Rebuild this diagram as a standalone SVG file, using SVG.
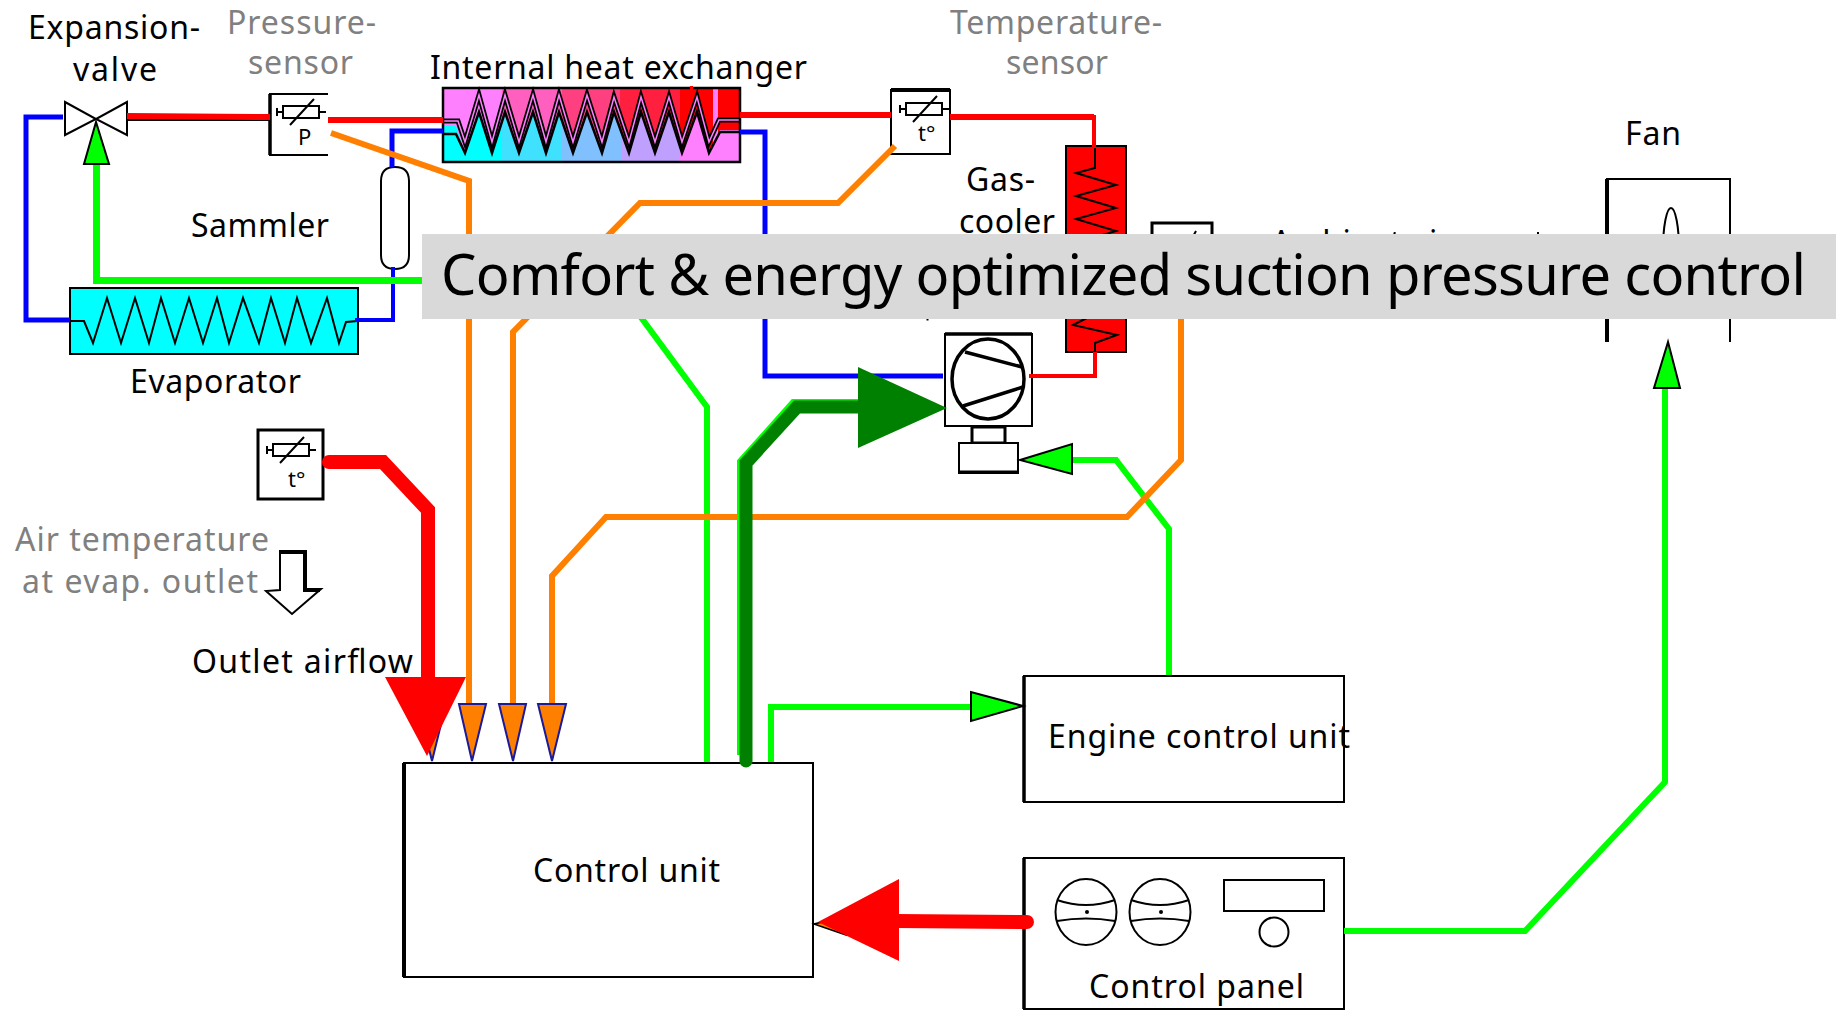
<svg xmlns="http://www.w3.org/2000/svg" width="1836" height="1010" viewBox="0 0 1836 1010">
<style>
text{font-family:"Noto Sans","Open Sans","Liberation Sans",sans-serif;font-size:32px;fill:#000}
text.g{fill:#808080}
text.s{font-size:22px}
.box{fill:#fff;stroke:#000;stroke-width:2}
.bx3{fill:#fff;stroke:#000;stroke-width:3}
.ln{fill:none;stroke:#000;stroke-width:2}
.c{fill:none;stroke-linejoin:miter}
.red{stroke:#f00}.blue{stroke:#00f}.lime{stroke:#0f0}.or{stroke:#ff8000}
.ah{fill:#0f0;stroke:#000;stroke-width:2}
.oh{fill:#ff8000;stroke:#1a1a9a;stroke-width:2}
</style>
<defs>
<clipPath id="lowerCoil"><path d="M443,126H456L465,153L479,112L492,153L505,112L519,153L533,112L546,153L559,112L573,153L587,112L602,153L614,112L629,153L641,112L655,153L669,112L682,153L697,112L709,153L720,130H740V162H443Z"/></clipPath>
<g id="res"><rect x="0" y="0" width="36" height="12" fill="#fff" stroke="#000" stroke-width="2"/><path d="M-7,6H0M36,6H43M-6,2V10M7,19L31,-7" fill="none" stroke="#000" stroke-width="2"/></g>
</defs>

<g id="expansion-valve">
<path class="box" d="M65,102L96,119L65,135Z"/>
<path class="box" d="M127,102L96,119L127,135Z"/>
<text x="28" y="39" textLength="172">Expansion-</text>
<text x="73" y="81" textLength="84">valve</text>
</g>

<g id="pressure-sensor">
<path class="ln" d="M328,94H270V155H328"/>
<path d="M270,94V155" stroke="#000" stroke-width="3.500"/>
<use href="#res" x="283" y="106"/>
<text class="s" x="298" y="145">P</text>
<text class="g" x="227" y="34" textLength="149">Pressure-</text>
<text class="g" x="248" y="74" textLength="105">sensor</text>
</g>

<g id="internal-heat-exchanger">
<rect x="443" y="88" width="60" height="74" fill="#ff80ff"/>
<rect x="502" y="88" width="60" height="74" fill="#ff60c0"/>
<rect x="562" y="88" width="58" height="74" fill="#ff4080"/>
<rect x="620" y="88" width="60" height="74" fill="#ff2040"/>
<rect x="680" y="88" width="33" height="74" fill="#f00"/>
<rect x="713" y="88" width="5" height="74" fill="#ff80ff"/>
<rect x="718" y="88" width="22" height="74" fill="#f00"/>
<g clip-path="url(#lowerCoil)">
<rect x="443" y="88" width="59" height="74" fill="#0ff"/>
<rect x="502" y="88" width="60" height="74" fill="#40e0ff"/>
<rect x="562" y="88" width="60" height="74" fill="#80c0ff"/>
<rect x="622" y="88" width="58" height="74" fill="#c0a0ff"/>
<rect x="680" y="88" width="60" height="74" fill="#ff80ff"/>
</g>
<polyline fill="none" stroke="#000" stroke-width="2.500" points="443,134 456,134 465,153 479,112 492,153 505,112 519,153 533,112 546,153 559,112 573,153 587,112 602,153 614,112 629,153 641,112 655,153 669,112 682,153 697,112 709,153 720,132 740,132"/>
<polyline fill="none" stroke="#000" stroke-width="5" points="443,121 458,121 465,142 479,95 492,142 505,95 519,142 533,95 546,142 559,95 573,142 587,95 602,142 614,97 629,142 641,97 655,142 669,97 682,142 697,97 709,142 719,120 740,120"/>
<polyline fill="none" stroke="#ff80ff" stroke-width="1.500" points="443,121 458,121 465,142 479,95 492,142 505,95 519,142 533,95 546,142 559,95 573,142 587,95 602,142 614,97 629,142 641,97 655,142 669,97 682,142 697,97 709,142 719,120 740,120"/>
<rect x="443" y="88" width="297" height="74" fill="none" stroke="#000" stroke-width="2.500"/>
<rect x="690" y="86" width="3" height="4" fill="#f00"/>
<text x="430" y="79" textLength="377">Internal heat exchanger</text>
</g>

<g id="temperature-sensor">
<rect class="box" x="891" y="90" width="59" height="64"/>
<path d="M891,90H950" stroke="#000" stroke-width="4"/>
<use href="#res" x="906" y="103"/>
<text class="s" x="918" y="141">t°</text>
<text class="g" x="950" y="34" textLength="212">Temperature-</text>
<text class="g" x="1006" y="74" textLength="102">sensor</text>
</g>

<g id="sammler">
<path class="box" d="M381,181Q381,167 395,167Q409,167 409,181V255Q409,269 395,269Q381,269 381,255Z"/>
<text x="191" y="237" textLength="138">Sammler</text>
</g>

<g id="evaporator">
<rect x="70" y="288" width="288" height="66" fill="#0ff" stroke="#000" stroke-width="2"/>
<polyline fill="none" stroke="#000" stroke-width="2" points="70,321 84,321 93,343 107,298 121,343 135,298 149,343 161,298 175,343 189,298 203,343 217,298 229,343 243,298 259,343 271,298 285,343 297,298 311,343 327,298 339,343 346,322 358,321"/>
<text x="130" y="393" textLength="171">Evaporator</text>
</g>

<g id="gas-cooler">
<rect x="1066" y="146" width="60" height="206" fill="#f00" stroke="#000" stroke-width="2"/>
<polyline fill="none" stroke="#000" stroke-width="2" points="1095,146 1095,168 1076,173 1116,185 1076,196 1116,208 1076,219 1116,231 1076,243 1116,255 1076,267 1116,279 1076,291 1117,303 1073,325 1117,335 1095,343 1095,352"/>
<text x="966" y="191" textLength="69">Gas-</text>
<text x="959" y="233" textLength="96">cooler</text>
</g>

<g id="ambient-sensor">
<rect class="bx3" x="1152" y="223" width="60" height="90"/>
<path d="M1191,240L1196,231" stroke="#000" stroke-width="2"/>
<text x="1271" y="254" textLength="180">Ambient air</text>
<rect x="1537" y="232" width="2" height="2" fill="#000"/>
</g>

<g id="compressor">
<rect class="box" x="945" y="334" width="87" height="92"/>
<path d="M945,334H1032" stroke="#000" stroke-width="3.500"/>
<ellipse cx="988" cy="379" rx="36" ry="40" fill="#fff" stroke="#000" stroke-width="3.500"/>
<path d="M965,352L1022,367M963,406L1023,387" stroke="#000" stroke-width="3.500"/>
<rect class="bx3" x="972" y="427" width="33" height="16"/>
<rect class="box" x="959" y="443" width="59" height="30"/>
<path d="M959,472H1018" stroke="#000" stroke-width="3"/>
<rect x="926.500" y="319" width="2" height="1.500" fill="#000"/>
</g>

<g id="air-temp-sensor">
<rect class="bx3" x="258" y="430" width="65" height="69"/>
<use href="#res" x="273" y="444"/>
<text class="s" x="288" y="487">t°</text>
<text class="g" x="15" y="551" textLength="254">Air temperature</text>
<text class="g" x="22" y="593" textLength="236">at evap. outlet</text>
</g>

<g id="outlet-airflow">
<path class="ln" style="fill:#fff" d="M280,590V551H306V589H321L292,614L266,591Z"/>
<path d="M279,552H305V590H320" fill="none" stroke="#000" stroke-width="4"/>
<text x="192" y="673" textLength="221">Outlet airflow</text>
</g>

<g id="control-unit">
<rect class="box" x="404" y="763" width="409" height="214"/>
<path d="M404,763V977" stroke="#000" stroke-width="4"/>
<text x="533" y="882" textLength="187">Control unit</text>
</g>

<g id="engine-control-unit">
<rect class="box" x="1024" y="676" width="320" height="126"/>
<path d="M1024,676V802" stroke="#000" stroke-width="3.500"/>
<text x="1048" y="748" textLength="302">Engine control unit</text>
</g>

<g id="control-panel">
<rect class="box" x="1024" y="858" width="320" height="151"/>
<path d="M1024,858V1009" stroke="#000" stroke-width="3.500"/>
<ellipse class="box" cx="1086" cy="912" rx="30.500" ry="33"/>
<path class="ln" d="M1057,900Q1086,910 1115,900M1057,921Q1086,916 1115,921"/>
<circle cx="1087" cy="912" r="2"/>
<ellipse class="box" cx="1160" cy="912" rx="30.500" ry="33"/>
<path class="ln" d="M1131,900Q1160,910 1189,900M1131,921Q1160,916 1189,921"/>
<circle cx="1161" cy="912" r="2"/>
<rect class="box" x="1224" y="880" width="100" height="31"/>
<ellipse class="box" cx="1274" cy="932" rx="14.500" ry="14.500"/>
<text x="1089" y="998" textLength="215">Control panel</text>
</g>

<g id="fan">
<path class="ln" d="M1607,342V179H1730V342"/>
<path d="M1607,179V342" stroke="#000" stroke-width="4"/>
<ellipse class="box" cx="1671" cy="250" rx="8" ry="42"/>
<text x="1625" y="145" textLength="56">Fan</text>
</g>

<g id="connectors">
<path class="c" d="M127,120H270" stroke="#000" stroke-width="2"/>
<path class="c red" stroke-width="6" d="M127,116L270,117"/>
<path class="c red" stroke-width="6" d="M328,120H443"/>
<path class="c red" stroke-width="6" d="M740,115H891"/>
<path class="c red" stroke-width="6" d="M950,117H1094"/>
<path class="c red" stroke-width="4" d="M1094,115V148"/>
<path class="c red" stroke-width="4" d="M1095,352V376H1029"/>
<path class="c blue" stroke-width="5" d="M63,117H26V320H70"/>
<path class="c blue" stroke-width="5" d="M392,167V131H443"/>
<path class="c blue" stroke-width="4" d="M393,267V320H355"/>
<path class="c blue" stroke-width="5" d="M740,132H765V376H943"/>
<path class="c lime" stroke-width="7" d="M96.500,164V280.500H422"/>
<path class="c lime" stroke-width="6" d="M640,316L707,407V762"/>
<path class="c lime" stroke-width="6" d="M771,762V707H972"/>
<path class="c lime" stroke-width="6" d="M1072,460H1116L1169,529V675"/>
<path class="c lime" stroke-width="6" d="M1344,931H1525L1665,782V387"/>
<path class="c or" stroke-width="6" d="M331,133L469,181V705"/>
<path class="c or" stroke-width="6" d="M895,146L838,203H640L513,332V705"/>
<path class="c or" stroke-width="6" d="M552,705V576L606,517H1127L1181,460V300"/>
<path class="c lime" stroke-width="14" d="M744,755V463L795,406H875"/>
<path class="c" stroke="#008000" stroke-width="13" stroke-linecap="round" d="M746,761V463L797,407H875"/>
<path class="ah" style="stroke-width:1" d="M946,408L920,412L925,404Z"/>
<path d="M858,367L947,408L858,448Z" fill="#008000"/>
<path class="c" stroke="#f00" stroke-width="14" stroke-linecap="round" d="M329,462H383L428,510V680"/>
<path class="oh" d="M418,704H446L432,761Z"/>
<path class="oh" d="M459,704H486L472,761Z"/>
<path class="oh" d="M499,704H526L513,761Z"/>
<path class="oh" d="M538,704H566L552,761Z"/>
<path d="M385,677H466L427,756Z" fill="#f00"/>
<path class="ah" d="M96,122L84,164H109Z"/>
<path class="ah" d="M1020,460L1072,444V474Z"/>
<path class="ah" d="M1023,706L971,692V721Z"/>
<path class="ah" d="M1668,342L1654,388H1680Z"/>
<path d="M814,924L846,935L840,918Z" fill="#ff8000" stroke="#000" stroke-width="1.500"/>
<path class="c" stroke="#f00" stroke-width="14" stroke-linecap="round" d="M1027,922L895,921"/>
<path d="M818,922L899,879V961Z" fill="#f00"/>
</g>

<g id="banner">
<rect x="422" y="234" width="1414" height="85" fill="#d9d9d9"/>
<text x="441" y="295" style="font-size:56px" textLength="1365">Comfort &amp; energy optimized suction pressure control</text>
</g>
</svg>
